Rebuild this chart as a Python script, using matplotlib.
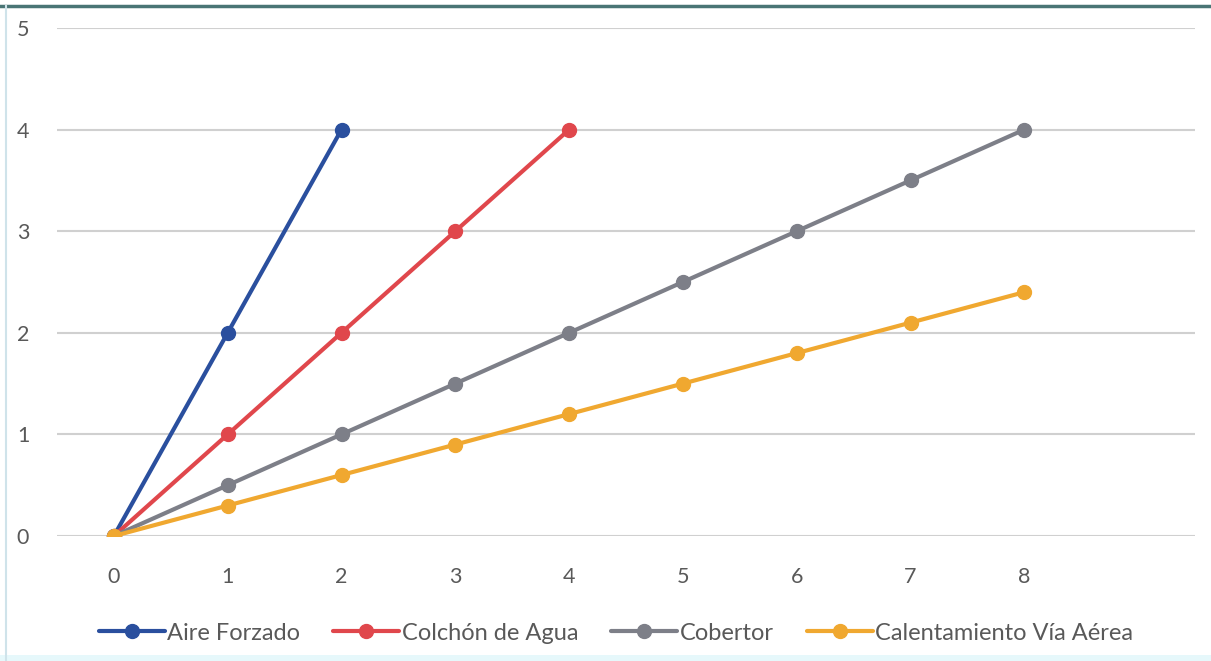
import matplotlib
matplotlib.use("Agg")
import matplotlib.pyplot as plt
from matplotlib.lines import Line2D
from matplotlib.patches import Rectangle

plt.rcParams['font.family'] = ['Lato', 'DejaVu Sans']

# horas de tratamiento y aumento de temperatura por método
x_aire = [0, 1, 2]
aire = [0, 2, 4]
x_colchon = [0, 1, 2, 3, 4]
colchon = [0, 1, 2, 3, 4]
x_cobertor = [0, 1, 2, 3, 4, 5, 6, 7, 8]
cobertor = [0, 0.5, 1, 1.5, 2, 2.5, 3, 3.5, 4]
x_via = [0, 1, 2, 3, 4, 5, 6, 7, 8]
via = [0, 0.3, 0.6, 0.9, 1.2, 1.5, 1.8, 2.1, 2.4]

series = [
    ("Aire Forzado", x_aire, aire, "#2a4f9e"),
    ("Colchón de Agua", x_colchon, colchon, "#e0474c"),
    ("Cobertor", x_cobertor, cobertor, "#7d7f88"),
    ("Calentamiento Vía Aérea", x_via, via, "#f0a830"),
]

fig = plt.figure(figsize=(12.11, 6.61), dpi=100)
ax = fig.add_axes([57 / 1211, (661 - 536) / 661, (1195 - 57) / 1211, 508 / 661])

for name, xs, ys, col in series:
    ax.plot(xs, ys, color=col, lw=3, marker='o', ms=10, label=name,
            solid_capstyle='round', zorder=3)

ax.set_xlim(-0.5, 9.5)
ax.set_ylim(0, 5)
ax.set_xticks(range(0, 9))
ax.set_yticks(range(0, 6))
ax.grid(axis='y', color='#d0d0d0', lw=1.5)
ax.set_axisbelow(True)
for s in ax.spines.values():
    s.set_visible(False)
ax.tick_params(length=0, labelsize=15.5, colors='#595959')
ax.tick_params(axis='x', pad=22)
ax.tick_params(axis='y', pad=20)

leg = fig.legend(loc='center', bbox_to_anchor=(616 / 1211, 1 - 633 / 661),
                 ncol=4, frameon=False, fontsize=17, handlelength=2.8,
                 handletextpad=0.1, columnspacing=1.4)
for t in leg.get_texts():
    t.set_color('#595959')

# marco de la imagen
fig.add_artist(Line2D([0, 1], [1 - 6 / 661, 1 - 6 / 661], color='#4a7575', lw=2.5))
fig.add_artist(Line2D([6 / 1211, 6 / 1211], [0, 1 - 6 / 661], color='#cfe3ea', lw=1.5))
fig.add_artist(Rectangle((0, 0), 1, 6 / 661, transform=fig.transFigure,
                         color='#e6f8fb', lw=0))

fig.savefig("out.png", dpi=100)
